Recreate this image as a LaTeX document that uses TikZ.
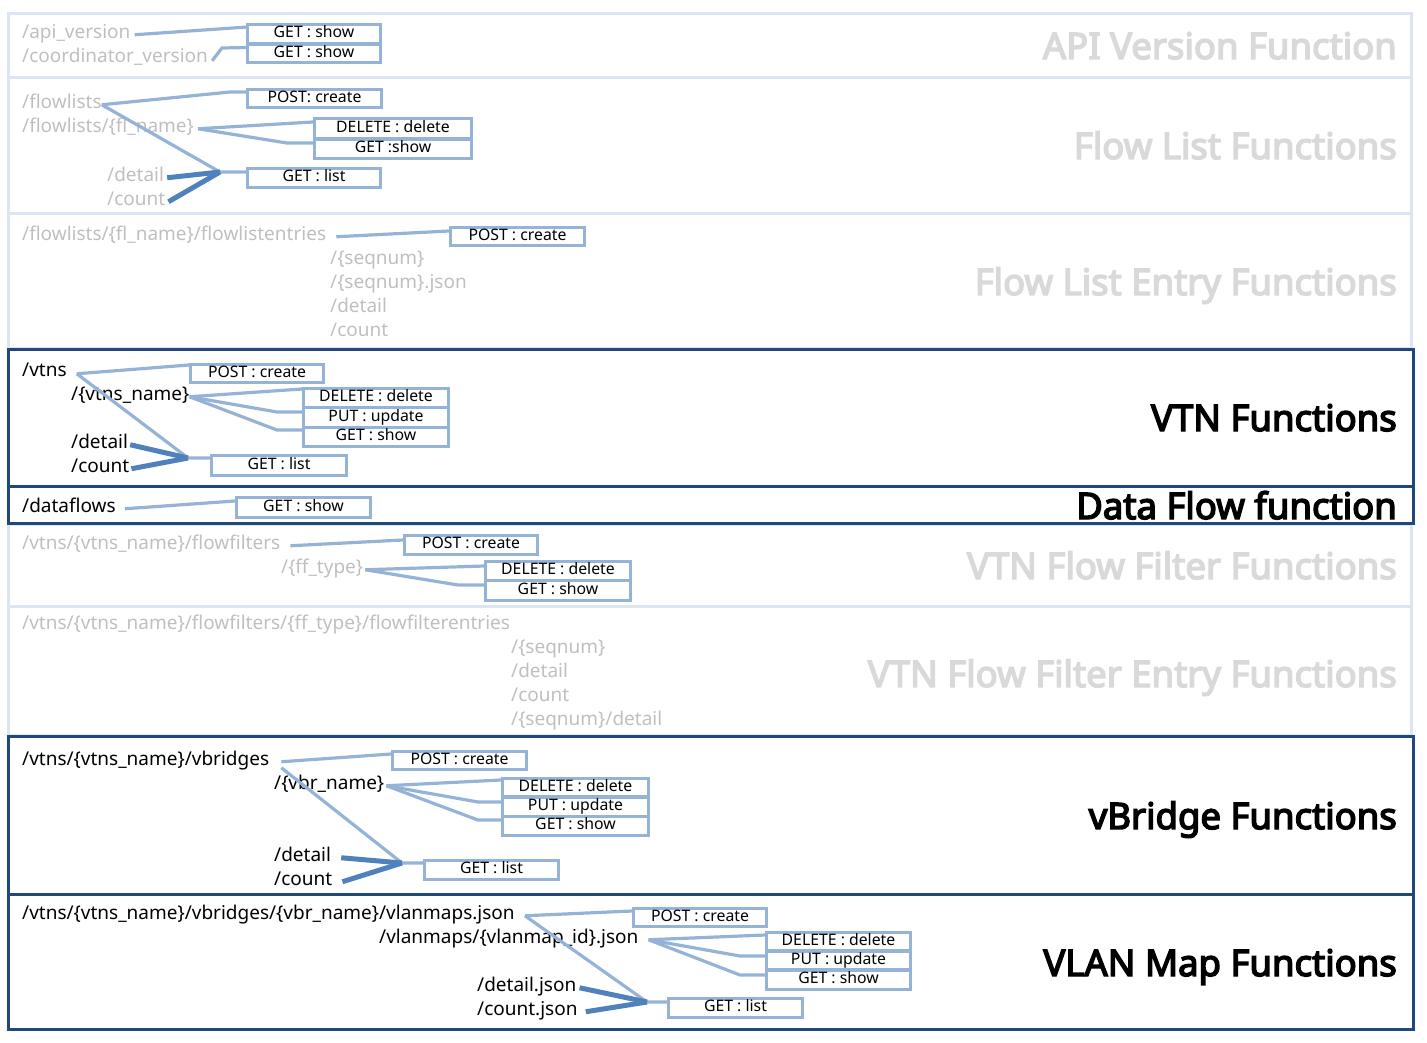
\documentclass[tikz,border=0pt]{standalone}
\usepackage{fontspec}
\setmainfont{Noto Sans}
\newfontfamily\ttlfont{Noto Sans}[FakeBold=4]
\usetikzlibrary{calc}
\definecolor{lightframe}{HTML}{DCE6F2}
\definecolor{darkframe}{HTML}{1F497D}
\definecolor{boxline}{HTML}{95B3D7}
\definecolor{thickline}{HTML}{4F81BD}
\definecolor{pathgray}{HTML}{BFBFBF}
\definecolor{titlegray}{HTML}{D9D9D9}
\newcommand\fbx[6]{\node[mbox,minimum width={#4-#2},minimum height={#5-#3}] (#1) at ({(#2+#4)/2},{(#3+#5)/2}) {#6};}
\begin{document}
\begin{tikzpicture}[x=1pt,y=-1pt,
  lframe/.style={draw=lightframe,line width=3pt},
  dframe/.style={draw=darkframe,line width=3pt},
  pth/.style={anchor=base west,inner sep=0pt,text height=0.75em,text depth=0.1em,font=\fontsize{19}{21}\selectfont},
  gpath/.style={pth,text=pathgray},
  bpath/.style={pth,text=black},
  gttl/.style={anchor=base east,inner sep=0pt,text=titlegray,font=\ttlfont\fontsize{36.5}{40}\selectfont},
  bttl/.style={gttl,text=black},
  mbox/.style={draw=boxline,line width=3.2pt,fill=white,inner sep=0pt,text height=0.75em,text depth=0.05em,font=\fontsize{15.8}{17}\selectfont},
  conn/.style={draw=boxline,line width=3.2pt},
  tconn/.style={draw=thickline,line width=5pt}
]
\useasboundingbox (0,0) rectangle (1427,1042);
% ---------- frames ----------
\draw[lframe] (8.5,13.5) rectangle (1411,77);
\draw[lframe] (8.5,77) rectangle (1411,213);
\draw[lframe] (8.5,213) rectangle (1411,348);
\draw[lframe] (8.5,524) rectangle (1411,606);
\draw[lframe] (8.5,606) rectangle (1411,735);
\draw[dframe] (8.5,349) rectangle (1413,486);
\draw[dframe] (8.5,486) rectangle (1413,523);
\draw[dframe] (8.5,736) rectangle (1413,894);
\draw[dframe] (8.5,894) rectangle (1413,1029);
% ---------- titles ----------
\node[gttl] (t1) at (1397,59) {API Version Function};
\node[gttl] (t2) at (1397,159) {Flow List Functions};
\node[gttl] (t3) at (1397,295) {Flow List Entry Functions};
\node[bttl] (t4) at (1397,431) {VTN Functions};
\node[bttl] (t5) at (1397,519) {Data Flow function};
\node[gttl] (t6) at (1397,579) {VTN Flow Filter Functions};
\node[gttl] (t7) at (1397,687) {VTN Flow Filter Entry Functions};
\node[bttl] (t8) at (1397,829) {vBridge Functions};
\node[bttl] (t9) at (1397,976) {VLAN Map Functions};
% ---------- API version ----------
\node[gpath] (apiv) at (22,38) {/api\_version};
\node[gpath] (coordv) at (22,62) {/coordinator\_version};
\draw[conn] ([xshift=4pt]apiv.east) -- (247.5,27);
\coordinate (ac) at (222,48);
\draw[conn] ([xshift=4pt,yshift=-2pt]coordv.east) -- (ac) -- (247.5,47.5);
\fbx{ag1}{247.5}{24.5}{380.5}{43.5}{GET : show}
\fbx{ag2}{247.5}{44.5}{380.5}{62.5}{GET : show}
% ---------- flow list ----------
\node[gpath] (fl) at (22,108) {/flowlists};
\node[gpath] (fln) at (22,132) {/flowlists/\{fl\_name\}};
\node[gpath] (fld) at (107,181) {/detail};
\node[gpath] (flc) at (107,205) {/count};
\coordinate (flk1) at (230,92);
\coordinate (flv) at (220,172);
\coordinate (flk2) at (287,143);
\fbx{flp}{247.5}{89.5}{381.5}{107.5}{POST: create}
\fbx{fldel}{314.5}{118.5}{471.5}{138.5}{DELETE : delete}
\fbx{flget}{314.5}{139.5}{471.5}{158.5}{GET :show}
\fbx{fllist}{247.5}{168.5}{380.5}{187.5}{GET : list}
\draw[conn] (fl.east) -- (flk1) -- ([yshift=6.5pt]flp.west);
\draw[conn] (fl.east) -- (flv) -- ([yshift=6pt]fllist.west);
\draw[conn] ([xshift=4pt]fln.east) -- ([yshift=6.5pt]fldel.west);
\draw[conn] ([xshift=4pt]fln.east) -- (flk2) -- ([yshift=6pt]flget.west);
\draw[tconn] ([xshift=3pt]fld.east) -- (flv);
\draw[tconn] ([xshift=3pt]flc.east) -- (flv);
% ---------- flow list entries ----------
\node[gpath] (fle) at (22,240) {/flowlists/\{fl\_name\}/flowlistentries};
\node[gpath] (fle1) at (330,264) {/\{seqnum\}};
\node[gpath] (fle2) at (330,288) {/\{seqnum\}.json};
\node[gpath] (fle3) at (330,312) {/detail};
\node[gpath] (fle4) at (330,336) {/count};
\fbx{flep}{450.5}{227.5}{584.5}{245.5}{POST : create}
\draw[conn] ([xshift=10pt]fle.east) -- ([yshift=5.5pt]flep.west);
% ---------- VTN ----------
\node[bpath] (vtns) at (22,376) {/vtns};
\node[bpath] (vtnn) at (71,400) {/\{vtns\_name\}};
\node[bpath] (vtd) at (71,448) {/detail};
\node[bpath] (vtc) at (71,472) {/count};
\coordinate (vtv) at (188,458);
\coordinate (vtk1) at (277,412);
\coordinate (vtk2) at (277,430);
\fbx{vtp}{190.5}{364.5}{323.5}{382.5}{POST : create}
\fbx{vtdel}{303.5}{388.5}{448.5}{407.5}{DELETE : delete}
\fbx{vtput}{303.5}{407.5}{448.5}{427.5}{PUT : update}
\fbx{vtget}{303.5}{427.5}{448.5}{446.5}{GET : show}
\fbx{vtlist}{211.5}{455.5}{346.5}{475.5}{GET : list}
\draw[conn] ([xshift=10pt,yshift=-1pt]vtns.east) -- ([yshift=8.5pt]vtp.west);
\draw[conn] ([xshift=10pt,yshift=-1pt]vtns.east) -- (vtv) -- ([yshift=7.5pt]vtlist.west);
\draw[conn] (vtnn.east) -- ([yshift=9pt]vtdel.west);
\draw[conn] (vtnn.east) -- (vtk1) -- ([yshift=5.5pt]vtput.west);
\draw[conn] (vtnn.east) -- (vtk2) -- ([yshift=7pt]vtget.west);
\draw[tconn] ([xshift=2pt]vtd.east) -- (vtv);
\draw[tconn] ([xshift=2pt]vtc.east) -- (vtv);
% ---------- data flow ----------
\node[bpath] (dfl) at (22,512) {/dataflows};
\fbx{dfg}{236.5}{497.5}{370.5}{517.5}{GET : show}
\draw[conn] ([xshift=9pt]dfl.east) -- ([yshift=6.5pt]dfg.west);
% ---------- VTN flow filter ----------
\node[gpath] (ff) at (22,549) {/vtns/\{vtns\_name\}/flowfilters};
\node[gpath] (fft) at (281,573) {/\{ff\_type\}};
\coordinate (ffk) at (458,585);
\fbx{ffp}{404.5}{535.5}{537.5}{554.5}{POST : create}
\fbx{ffdel}{485.5}{561.5}{630.5}{580.5}{DELETE : delete}
\fbx{ffget}{485.5}{580.5}{630.5}{600.5}{GET : show}
\draw[conn] ([xshift=10pt]ff.east) -- ([yshift=5pt]ffp.west);
\draw[conn] ([xshift=2pt]fft.east) -- ([yshift=5pt]ffdel.west);
\draw[conn] ([xshift=2pt]fft.east) -- (ffk) -- ([yshift=5.5pt]ffget.west);
% ---------- VTN flow filter entries ----------
\node[gpath] (ffe) at (22,629) {/vtns/\{vtns\_name\}/flowfilters/\{ff\_type\}/flowfilterentries};
\node[gpath] (ffe1) at (511,653) {/\{seqnum\}};
\node[gpath] (ffe2) at (511,677) {/detail};
\node[gpath] (ffe3) at (511,701) {/count};
\node[gpath] (ffe4) at (511,725) {/\{seqnum\}/detail};
% ---------- vBridge ----------
\node[bpath] (vb) at (22,765) {/vtns/\{vtns\_name\}/vbridges};
\node[bpath] (vbn) at (274,789) {/\{vbr\_name\}};
\node[bpath] (vbd) at (274,861) {/detail};
\node[bpath] (vbc) at (274,885) {/count};
\coordinate (vbv) at (402,863);
\coordinate (vbk1) at (478,802);
\coordinate (vbk2) at (478,820);
\fbx{vbp}{392.5}{751.5}{526.5}{769.5}{POST : create}
\fbx{vbdel}{502.5}{778.5}{648.5}{797}{DELETE : delete}
\fbx{vbput}{502.5}{797}{648.5}{816.5}{PUT : update}
\fbx{vbget}{502.5}{816.5}{648.5}{835.5}{GET : show}
\fbx{vblist}{424.5}{860.5}{558.5}{879.5}{GET : list}
\draw[conn] ([xshift=12pt]vb.east) -- ([yshift=6.5pt]vbp.west);
\draw[conn] ([xshift=12pt,yshift=-6pt]vb.east) -- (vbv) -- ([yshift=7pt]vblist.west);
\draw[conn] ([xshift=2pt]vbn.east) -- ([yshift=7.75pt]vbdel.west);
\draw[conn] ([xshift=2pt]vbn.east) -- (vbk1) -- ([yshift=4.75pt]vbput.west);
\draw[conn] ([xshift=2pt]vbn.east) -- (vbk2) -- ([yshift=6pt]vbget.west);
\draw[tconn] ([xshift=10pt]vbd.east) -- (vbv);
\draw[tconn] ([xshift=10pt]vbc.east) -- (vbv);
% ---------- VLAN map ----------
\node[bpath] (vl) at (22,919) {/vtns/\{vtns\_name\}/vbridges/\{vbr\_name\}/vlanmaps.json};
\node[bpath] (vln) at (379,943) {/vlanmaps/\{vlanmap\_id\}.json};
\node[bpath] (vld) at (477,991) {/detail.json};
\node[bpath] (vlc) at (477,1015) {/count.json};
\coordinate (vlv) at (647,1002);
\coordinate (vlk1) at (740,956);
\coordinate (vlk2) at (740,975);
\fbx{vlp}{633.5}{908.5}{766.5}{926.5}{POST : create}
\fbx{vldel}{766.5}{932.5}{910.5}{951}{DELETE : delete}
\fbx{vlput}{766.5}{951}{910.5}{970}{PUT : update}
\fbx{vlget}{766.5}{970}{910.5}{989.5}{GET : show}
\fbx{vllist}{668.5}{998.5}{802.5}{1017.5}{GET : list}
\draw[conn] ([xshift=10pt]vl.east) -- ([yshift=6.5pt]vlp.west);
\draw[conn] ([xshift=10pt]vl.east) -- (vlv) -- ([yshift=6pt]vllist.west);
\draw[conn] ([xshift=10pt]vln.east) -- ([yshift=6.75pt]vldel.west);
\draw[conn] ([xshift=10pt]vln.east) -- (vlk1) -- ([yshift=4.5pt]vlput.west);
\draw[conn] ([xshift=10pt]vln.east) -- (vlk2) -- ([yshift=4.75pt]vlget.west);
\draw[tconn] ([xshift=3pt]vld.east) -- (vlv);
\draw[tconn] ([xshift=8pt]vlc.east) -- (vlv);
\end{tikzpicture}
\end{document}
